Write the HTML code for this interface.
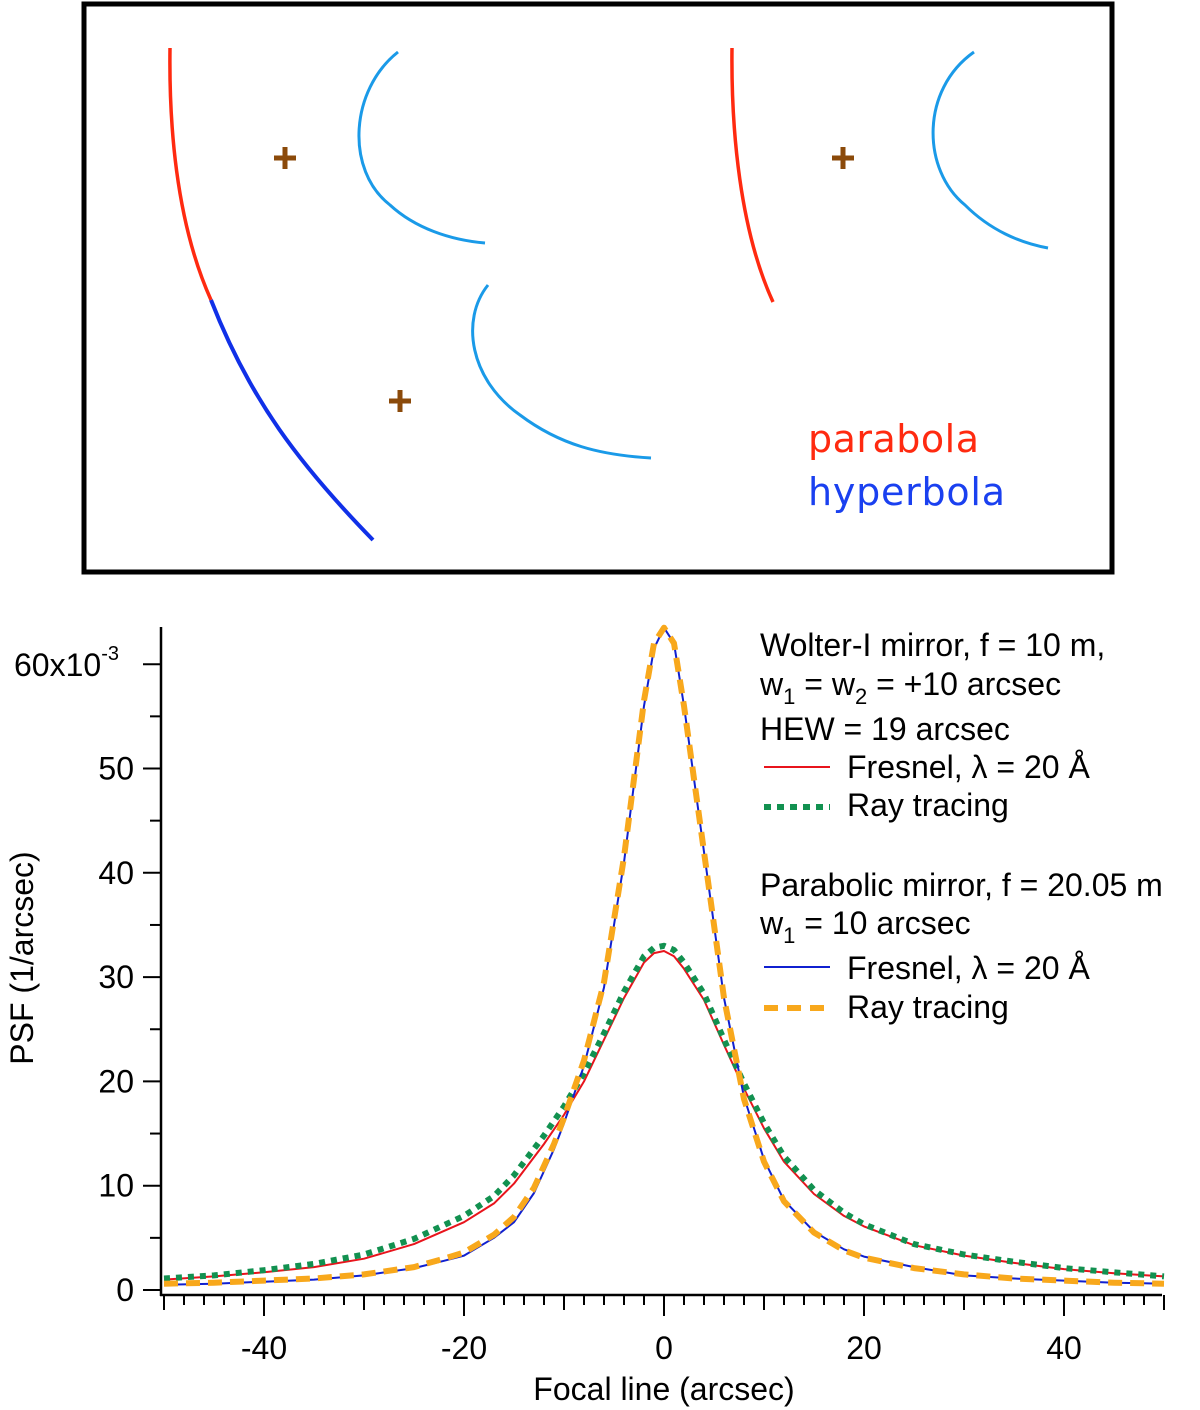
<!DOCTYPE html>
<html><head><meta charset="utf-8"><style>
html,body{margin:0;padding:0;background:#fff;}
svg{display:block;font-family:"Liberation Sans",sans-serif;}
</style></head><body>
<svg id="fig" width="1200" height="1410" viewBox="0 0 1200 1410" xmlns="http://www.w3.org/2000/svg">
<g>
<rect x="84" y="4" width="1028" height="568" fill="none" stroke="#000" stroke-width="5"/>
<path d="M170,48 C169,120 175,220 211,300" fill="none" stroke="#ff2a10" stroke-width="3.5"/>
<path d="M211,300 C250,400 300,465 373,540" fill="none" stroke="#1030e8" stroke-width="4"/>
<path d="M398,52 C350,90 345,170 390,205 C415,228 450,240 485,243" fill="none" stroke="#1a9ae8" stroke-width="3"/>
<path d="M488,285 C460,320 470,380 520,415 C560,445 600,455 651,458" fill="none" stroke="#1a9ae8" stroke-width="3"/>
<path d="M732,48 C731,130 740,230 773,302" fill="none" stroke="#ff2a10" stroke-width="3.5"/>
<path d="M974,52 C920,90 922,170 965,205 C990,230 1020,243 1048,248" fill="none" stroke="#1a9ae8" stroke-width="3"/>
<g stroke="#8b4a0a" stroke-width="5">
<path d="M274,158 H296 M285,147 V169"/>
<path d="M832,158 H854 M843,147 V169"/>
<path d="M389,401 H411 M400,390 V412"/>
</g>
<text x="808" y="452" font-size="38" fill="#ff2a10" font-family="'DejaVu Sans',sans-serif" textLength="171">parabola</text>
<text x="808" y="505" font-size="38" fill="#1a40f0" font-family="'DejaVu Sans',sans-serif" textLength="197">hyperbola</text>
</g>
<g id="chart"></g>
</svg>
<script>
const xBlue=[-50,-45,-40,-35,-30,-25,-22,-20,-17,-15,-13,-11,-10,-8,-6,-4,-2,-1,0,1,2,4,6,8,10,12,15,18,20,25,30,35,40,45,50];
const yBlue=[0.5,0.6,0.8,1.0,1.4,2.1,2.8,3.3,5.0,6.5,9.3,13.5,16,21.5,29,41,56,61.5,63.5,62,56,42,28,18.5,12.5,8.6,5.6,3.9,3.2,2.2,1.4,1.1,0.9,0.7,0.6];
const xRed=[-50,-45,-40,-35,-30,-25,-20,-17,-15,-12,-10,-8,-6,-4,-2,-1,0,1,2,4,6,8,10,12,15,18,20,25,30,35,40,45,50];
const yRed=[1.0,1.3,1.7,2.2,3.0,4.4,6.5,8.3,10.2,14,16.8,20,24,28,31.4,32.3,32.5,32,30.8,27.8,23.5,19.3,15.5,12.3,9.2,7.1,6.1,4.3,3.3,2.6,2.0,1.6,1.3];
const xGreen=[-50,-45,-40,-35,-30,-25,-20,-17,-15,-12,-10,-8,-6,-4,-2,-1,0,1,2,4,6,8,10,12,15,18,20,25,30,35,40,45,50];
const yGreen=[1.1,1.4,1.9,2.5,3.4,4.9,7.1,9.0,11.0,14.8,17.6,20.8,24.6,28.6,32,32.8,33,32.6,31.4,28.4,24,19.8,16,12.8,9.6,7.4,6.3,4.4,3.4,2.7,2.1,1.7,1.3];
const xOrange=[-50,-45,-40,-35,-30,-25,-22,-20,-17,-15,-13,-11,-10,-8,-6,-4,-2,-1,0,1,2,4,6,8,10,12,15,18,20,25,30,35,40,45,50];
const yOrange=[0.6,0.7,0.9,1.1,1.5,2.2,3.0,3.6,5.3,7.0,9.8,14,16.5,22,29.5,41.5,56.5,62,63.5,62,56,42,28,18.3,12.3,8.5,5.5,3.8,3.1,2.1,1.5,1.1,0.9,0.7,0.6];
const xTicks=[-40,-20,0,20,40];
const yTicks=[0,10,20,30,40,50];

const NS="http://www.w3.org/2000/svg";
const g=document.getElementById('chart');
const X0=664,XS=10.0,Y0=1290,YS=10.43;
function sx(v){return X0+v*XS;}
function sy(v){return Y0-v*YS;}
function mk(tag,attrs,parent){const e=document.createElementNS(NS,tag);for(const k in attrs)e.setAttribute(k,attrs[k]);(parent||g).appendChild(e);return e;}

const ya=mk('line',{x1:161,y1:627,x2:161,y2:1296,stroke:'#000','stroke-width':2.5});


const xa=mk('line',{x1:160,y1:1295,x2:1162,y2:1295,stroke:'#000','stroke-width':2.5});


for(let v=-50;v<=50;v+=2){
  const major=(v%20===0&&v!==-50&&v!==50)||v===0;
  const t=mk('line',{x1:sx(v),y1:1295,x2:sx(v),y2:major?1316:(v%10===0?1310:1305),stroke:'#000','stroke-width':2});
  
  
}
for(let v=0;v<=60;v+=5){
  const major=v%10===0;
  const t=mk('line',{x1:major?143:150,y1:sy(v),x2:161,y2:sy(v),stroke:'#000','stroke-width':2});
  
  
}
xTicks.forEach(v=>{
  const t=mk('text',{x:sx(v),y:1359,'font-size':32,'text-anchor':'middle'});
  t.textContent=String(v);
  
  
});
yTicks.forEach(v=>{
  const t=mk('text',{x:134,y:sy(v)+11,'font-size':32,'text-anchor':'end'});
  t.textContent=String(v);
  
  
});
const t60=mk('text',{x:14,y:sy(60)+12,'font-size':32});
t60.innerHTML='60x10<tspan dy="-16" font-size="20">-3</tspan>';



const yl=mk('text',{x:0,y:0,'font-size':32,'text-anchor':'middle',transform:'translate(33,958) rotate(-90)'});
yl.textContent='PSF (1/arcsec)';


const xl=mk('text',{x:664,y:1400,'font-size':32,'text-anchor':'middle'});
xl.textContent='Focal line (arcsec)';



function series(xs,ys,attrs,name){
  const d=xs.map((x,i)=>(i?'L':'M')+sx(x).toFixed(1)+','+sy(ys[i]).toFixed(1)).join(' ');
  const p=mk('path',Object.assign({d:d,fill:'none','stroke-linejoin':'round'},attrs));
  
  
}
series(xRed,yRed,{stroke:'#e8141c','stroke-width':2},'wolter-fresnel-line');
series(xGreen,yGreen,{stroke:'#129150','stroke-width':6,'stroke-dasharray':'6 6'},'wolter-raytracing-line');
series(xBlue,yBlue,{stroke:'#1020d0','stroke-width':2},'parabolic-fresnel-line');
series(xOrange,yOrange,{stroke:'#f8a81c','stroke-width':6,'stroke-dasharray':'14 8'},'parabolic-raytracing-line');

const L=mk('g',{'font-size':32});


function lt(x,y,html,name){const t=mk('text',{x:x,y:y},L);t.innerHTML=html;}
const sub='<tspan dy="9" font-size="22">';
lt(760,656,'Wolter-I mirror, f = 10 m,','legend-wolter-title');
lt(760,695,'w'+sub+'1</tspan><tspan dy="-9"> = w</tspan>'+sub+'2</tspan><tspan dy="-9"> = +10 arcsec</tspan>','legend-wolter-params');
lt(760,740,'HEW = 19 arcsec','legend-hew');
lt(847,778,'Fresnel, λ = 20 Å','legend-entry-wolter-fresnel');
lt(847,816,'Ray tracing','legend-entry-wolter-raytracing');
lt(760,896,'Parabolic mirror, f = 20.05 m','legend-parabolic-title');
lt(760,934,'w'+sub+'1</tspan><tspan dy="-9"> = 10 arcsec</tspan>','legend-parabolic-params');
lt(847,979,'Fresnel, λ = 20 Å','legend-entry-parabolic-fresnel');
lt(847,1018,'Ray tracing','legend-entry-parabolic-raytracing');
function ll(y,attrs,name){const l=mk('line',Object.assign({x1:764,x2:830,y1:y,y2:y},attrs),L);}
ll(767,{stroke:'#e8141c','stroke-width':2},'legend-swatch-red');
ll(807,{stroke:'#129150','stroke-width':6,'stroke-dasharray':'7 6'},'legend-swatch-green');
ll(967,{stroke:'#1020d0','stroke-width':2},'legend-swatch-blue');
ll(1008,{stroke:'#f8a81c','stroke-width':6,'stroke-dasharray':'14 9'},'legend-swatch-orange');
</script>
</body></html>
